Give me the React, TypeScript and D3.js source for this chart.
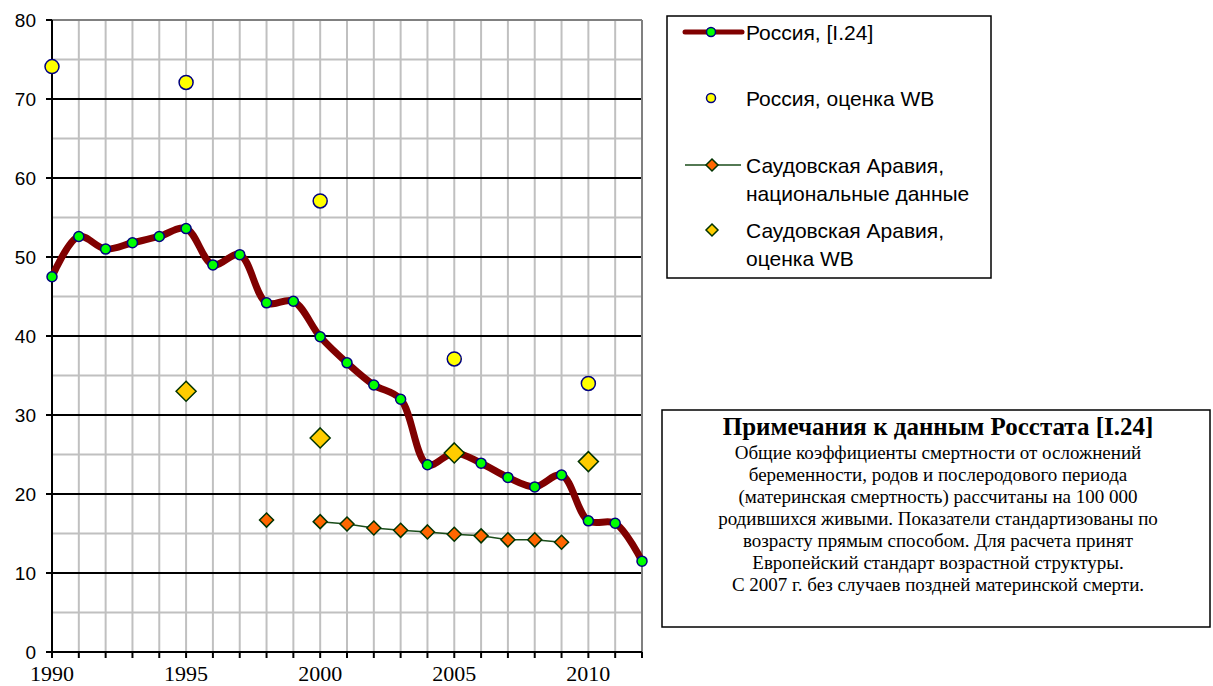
import * as d3 from "d3";

const rusYears = d3.range(1990, 2013);
const rusValues = [
  47.5, 52.6, 51.0, 51.8, 52.6, 53.6, 49.0, 50.3, 44.2, 44.4, 39.9, 36.6, 33.8,
  32.0, 23.7, 25.2, 23.9, 22.1, 20.9, 22.4, 16.6, 16.3, 11.5,
];

const rusWbYears = [1990, 1995, 2000, 2005, 2010];
const rusWbValues = [74.1, 72.1, 57.1, 37.1, 34.0];

const saudiYears = [1998, 2000, 2001, 2002, 2003, 2004, 2005, 2006, 2007, 2008, 2009];
const saudiValues = [16.7, 16.5, 16.2, 15.7, 15.4, 15.2, 14.9, 14.7, 14.2, 14.2, 13.9];

const saudiWbYears = [1995, 2000, 2005, 2010];
const saudiWbValues = [33.0, 27.1, 25.2, 24.1];

const yTicks = [0, 10, 20, 30, 40, 50, 60, 70, 80];
const xLabels = [1990, 1995, 2000, 2005, 2010];

const noteTitle = "Примечания к данным Росстата [I.24]";
const noteLines = [
  "Общие коэффициенты смертности от осложнений",
  "беременности, родов и послеродового периода",
  "(материнская смертность) рассчитаны на 100 000",
  "родившихся живыми. Показатели стандартизованы по",
  "возрасту прямым способом. Для расчета принят",
  "Европейский стандарт возрастной структуры.",
  "С 2007 г. без случаев поздней материнской смерти.",
];

const W = 1213;
const H = 686;
const left = 52;
const right = 642;
const top = 20;
const bottom = 652;

const diamond = (cx: number, cy: number, r: number) =>
  `M${cx},${cy - r}L${cx + r},${cy}L${cx},${cy + r}L${cx - r},${cy}Z`;

export default function App() {
  const x = d3.scaleLinear().domain([1990, 2012]).range([left, right]);
  const y = d3.scaleLinear().domain([0, 80]).range([bottom, top]);

  const rusLine = d3
    .line<number>()
    .x((_, i) => x(rusYears[i]))
    .y((d) => y(d))
    .curve(d3.curveCatmullRom.alpha(0.5));

  // 1998 is not joined to the rest (no 1999 value)
  const saudiLine = d3
    .line<number>()
    .defined((_, i) => i > 0)
    .x((_, i) => x(saudiYears[i]))
    .y((d) => y(d));

  const minor = d3.range(5, 80, 10);
  const arial = "Arial, 'Liberation Sans', sans-serif";
  const times = "'Times New Roman', 'Liberation Serif', serif";

  return (
    <svg
      width={W}
      height={H}
      style={{ position: "absolute", left: 0, top: 0, background: "#fff" }}
    >
      {/* vertical grid */}
      {rusYears.slice(1).map((yr) => (
        <line key={"v" + yr} x1={x(yr)} x2={x(yr)} y1={top} y2={bottom} stroke="#c0c0c0" strokeWidth={2} />
      ))}
      {minor.map((v) => (
        <line key={"m" + v} x1={left} x2={right} y1={y(v)} y2={y(v)} stroke="#c0c0c0" strokeWidth={2} />
      ))}
      {yTicks.slice(1, -1).map((v) => (
        <line key={"h" + v} x1={left} x2={right} y1={y(v)} y2={y(v)} stroke="#000" strokeWidth={2} />
      ))}
      {/* top and right border */}
      <line x1={left} x2={right} y1={top} y2={top} stroke="#808080" strokeWidth={2} />
      <line x1={right} x2={right} y1={top} y2={bottom} stroke="#808080" strokeWidth={2} />

      {/* axes */}
      <line x1={left} x2={left} y1={top} y2={bottom} stroke="#000" strokeWidth={2} />
      <line x1={left} x2={right} y1={bottom} y2={bottom} stroke="#000" strokeWidth={2} />
      {yTicks.map((v) => (
        <g key={"yt" + v}>
          <line x1={left - 6} x2={left} y1={y(v)} y2={y(v)} stroke="#000" strokeWidth={2} />
          <text x={36} y={y(v) + 7} textAnchor="end" fontFamily={arial} fontSize={19} fill="#000">
            {v}
          </text>
        </g>
      ))}
      {rusYears.map((yr) => (
        <line key={"xt" + yr} x1={x(yr)} x2={x(yr)} y1={bottom} y2={bottom + 6} stroke="#000" strokeWidth={2} />
      ))}
      {xLabels.map((yr) => (
        <text key={"xl" + yr} x={x(yr)} y={681} textAnchor="middle" fontFamily={times} fontSize={22} fill="#000">
          {yr}
        </text>
      ))}

      {/* Russia, Rosstat */}
      <path d={rusLine(rusValues) || ""} fill="none" stroke="#800000" strokeWidth={7} strokeLinejoin="round" />
      {rusValues.map((v, i) => (
        <circle key={"r" + i} cx={x(rusYears[i])} cy={y(v)} r={5} fill="#00ff00" stroke="#000080" strokeWidth={1.5} />
      ))}

      {/* Saudi national */}
      <path d={saudiLine(saudiValues) || ""} fill="none" stroke="#1a4d1a" strokeWidth={1.5} />
      {saudiValues.map((v, i) => (
        <path key={"s" + i} d={diamond(x(saudiYears[i]), y(v), 7)} fill="#ff6600" stroke="#003300" strokeWidth={1.5} />
      ))}

      {/* WB estimates */}
      {saudiWbValues.map((v, i) => (
        <path key={"sw" + i} d={diamond(x(saudiWbYears[i]), y(v), 10)} fill="#ffcc00" stroke="#003300" strokeWidth={1.5} />
      ))}
      {rusWbValues.map((v, i) => (
        <circle key={"rw" + i} cx={x(rusWbYears[i])} cy={y(v)} r={7} fill="#ffff00" stroke="#000080" strokeWidth={1.5} />
      ))}

      {/* legend */}
      <rect x={667} y={16} width={324} height={262} fill="#fff" stroke="#000" strokeWidth={1.5} />
      <g fontFamily={arial} fontSize={21} fill="#000">
        <line x1={685} x2={742} y1={32} y2={32} stroke="#800000" strokeWidth={5} strokeLinecap="round" />
        <circle cx={711} cy={32} r={4.5} fill="#00ff00" stroke="#000080" strokeWidth={1.5} />
        <text x={746} y={40}>Россия, [I.24]</text>

        <circle cx={711} cy={98} r={4.5} fill="#ffff00" stroke="#000080" strokeWidth={1.5} />
        <text x={746} y={106}>Россия, оценка WB</text>

        <line x1={685} x2={741} y1={165} y2={165} stroke="#1a4d1a" strokeWidth={1.5} />
        <path d={diamond(712, 165, 6)} fill="#ff6600" stroke="#003300" strokeWidth={1.5} />
        <text x={746} y={173}>Саудовская Аравия,</text>
        <text x={746} y={201}>национальные данные</text>

        <path d={diamond(712, 230, 6)} fill="#ffcc00" stroke="#003300" strokeWidth={1.5} />
        <text x={746} y={238}>Саудовская Аравия,</text>
        <text x={746} y={266}>оценка WB</text>
      </g>

      {/* notes */}
      <rect x={662} y={410} width={548} height={217} fill="#fff" stroke="#000" strokeWidth={1.5} />
      <text x={938} y={435} textAnchor="middle" fontFamily={times} fontSize={25} fontWeight="bold" fill="#000">
        {noteTitle}
      </text>
      {noteLines.map((t, i) => (
        <text key={"n" + i} x={938} y={459 + i * 22} textAnchor="middle" fontFamily={times} fontSize={19} fill="#000">
          {t}
        </text>
      ))}
    </svg>
  );
}
